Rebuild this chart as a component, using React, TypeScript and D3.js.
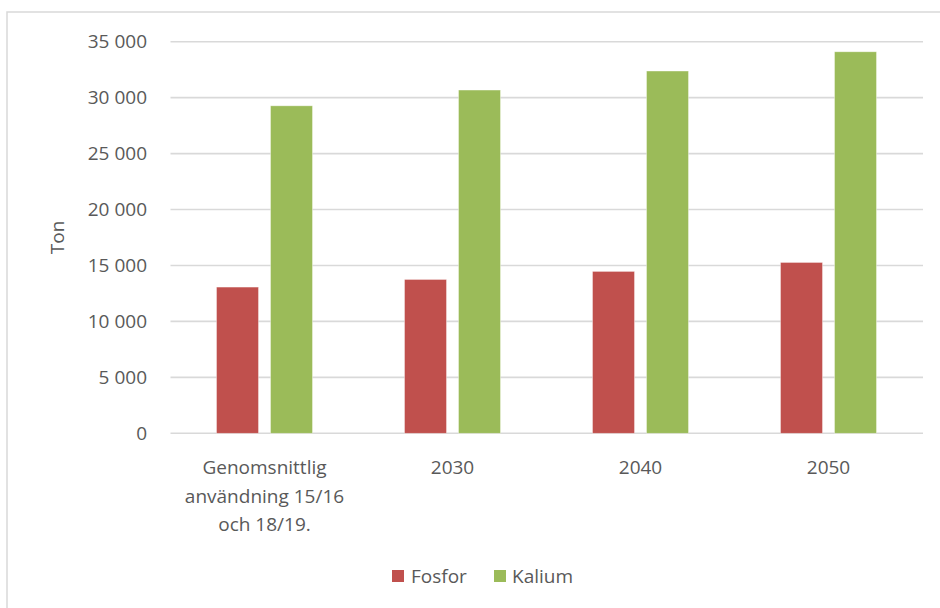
import React from "react";
import * as d3 from "d3";

const categories: string[][] = [
  ["Genomsnittlig", "användning 15/16", "och 18/19."],
  ["2030"],
  ["2040"],
  ["2050"],
];
const categoryKeys = ["avg", "2030", "2040", "2050"];
const seriesNames = ["Fosfor", "Kalium"];
const seriesColors = ["#c0504d", "#9bbb59"];
const fosfor = [13070, 13750, 14470, 15270];
const kalium = [29270, 30680, 32380, 34100];
const yTicks = [0, 5000, 10000, 15000, 20000, 25000, 30000, 35000];

const W = 940;
const H = 608;
const FONT = "'Open Sans', sans-serif";
const TEXT = "#595959";

export default function App() {
  const x = d3.scaleBand<string>().domain(categoryKeys).range([170.5, 922.5]);
  const x1 = d3.scalePoint<string>().domain(seriesNames).range([-27, 27]);
  const y = d3.scaleLinear().domain([0, 35000]).range([433.3, 41.7]);
  const locale = d3.formatLocale({ decimal: ",", thousands: "\u00a0", grouping: [3], currency: ["", ""] });
  const fmt = locale.format(",");
  const series = [fosfor, kalium];
  const bw = 42;

  return (
    <svg width={W} height={H} style={{ position: "absolute", left: 0, top: 0, background: "#fff" }} fontFamily={FONT}>
      <rect x={7} y={12} width={1000} height={1000} fill="#fff" stroke="#d9d9d9" strokeWidth={1.5} />
      {yTicks.map((t) => (
        <g key={t}>
          <line x1={170.5} x2={923} y1={y(t)} y2={y(t)} stroke="#d9d9d9" strokeWidth={1.6} />
          <text x={147} y={y(t)} dy="0.35em" textAnchor="end" fontSize={19} fill={TEXT}>
            {fmt(t)}
          </text>
        </g>
      ))}
      {categoryKeys.map((c, ci) => {
        const cx = (x(c) as number) + x.bandwidth() / 2;
        return (
          <g key={c}>
            {series.map((s, si) => {
              const bx = cx + (x1(seriesNames[si]) as number) - bw / 2;
              return (
                <rect
                  key={si}
                  x={bx}
                  y={y(s[ci])}
                  width={bw}
                  height={y(0) - y(s[ci])}
                  fill={seriesColors[si]}
                  stroke="#fff"
                  strokeOpacity={0.5}
                  strokeWidth={0.75}
                />
              );
            })}
            <text textAnchor="middle" fontSize={19} fill={TEXT}>
              {categories[ci].map((line, li) => (
                <tspan key={li} x={cx} y={474 + li * 28.5}>
                  {line}
                </tspan>
              ))}
            </text>
          </g>
        );
      })}
      <text transform="translate(64,237.5) rotate(-90)" textAnchor="middle" fontSize={19} fill={TEXT}>
        Ton
      </text>
      <g>
        <rect x={392} y={570} width={12} height={12} fill={seriesColors[0]} />
        <text x={411} y={583} fontSize={19} fill={TEXT}>{seriesNames[0]}</text>
        <rect x={494} y={570} width={12} height={12} fill={seriesColors[1]} />
        <text x={512} y={583} fontSize={19} fill={TEXT}>{seriesNames[1]}</text>
      </g>
    </svg>
  );
}
